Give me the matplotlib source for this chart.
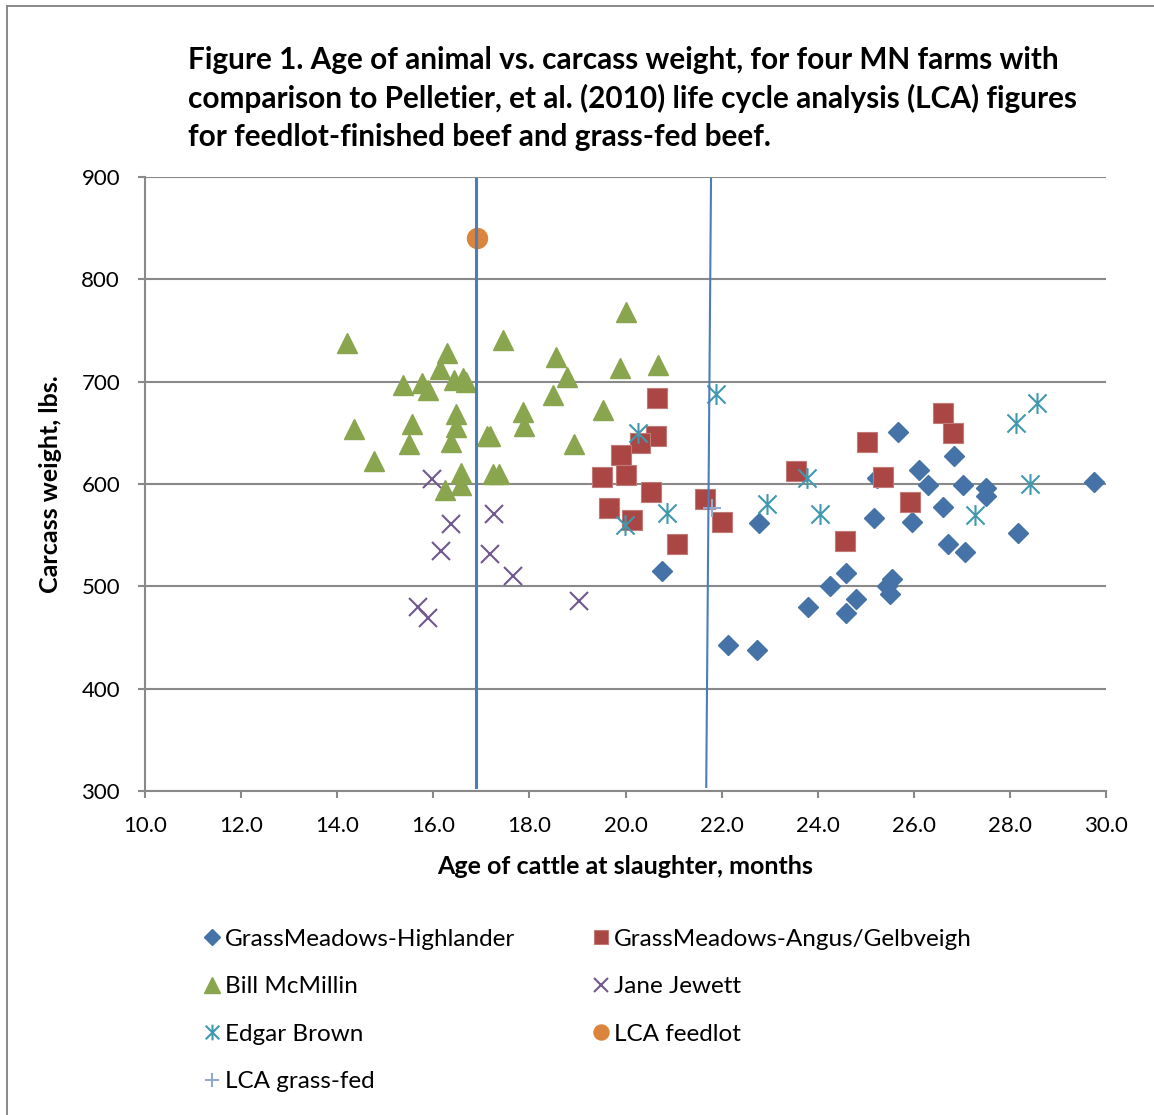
import numpy as np
import matplotlib.pyplot as plt
from matplotlib.lines import Line2D
from matplotlib.path import Path

plt.rcParams['font.family'] = ['Lato', 'DejaVu Sans']

# age at slaughter (months) and carcass weight (lbs) for each herd
highlander_age = [20.75, 22.14, 22.73, 22.78, 23.80, 24.26, 24.59, 24.79, 24.59, 25.18,
                  25.23, 25.54, 25.45, 25.50, 25.68, 25.97, 26.10, 26.30, 26.61, 26.84,
                  27.02, 26.72, 27.07, 27.50, 27.50, 28.16, 29.74]
highlander_wt = [515, 443, 438, 562, 480, 500, 513, 488, 474, 567,
                 606, 507, 500, 493, 651, 563, 614, 599, 578, 627,
                 599, 541, 534, 596, 588, 552, 602]

angus_age = [20.66, 20.63, 20.30, 19.91, 19.52, 20.00, 20.53, 19.66, 20.14, 21.08,
             21.65, 22.01, 23.54, 24.57, 26.60, 26.82, 25.02, 25.35, 25.93]
angus_wt = [684, 647, 640, 628, 607, 609, 592, 577, 565, 541,
            585, 563, 613, 544, 669, 650, 641, 607, 582]

mcmillin_age = [14.21, 16.28, 16.14, 17.46, 20.01, 18.56, 18.79, 19.89, 20.67, 15.36,
                15.76, 15.88, 16.43, 16.61, 16.69, 18.49, 19.54, 14.34, 15.56, 16.47,
                16.47, 17.87, 17.89, 17.11, 17.19, 15.49, 16.37, 18.93, 14.77, 16.57,
                16.57, 16.24, 17.25, 17.37]
mcmillin_wt = [738, 728, 712, 741, 768, 724, 705, 713, 716, 697,
               699, 692, 702, 704, 700, 687, 672, 654, 659, 668,
               656, 670, 657, 647, 647, 639, 641, 639, 622, 611,
               599, 594, 610, 610]

jewett_age = [15.98, 16.37, 16.17, 17.26, 17.19, 17.65, 15.69, 15.88, 19.03]
jewett_wt = [605, 561, 535, 571, 532, 510, 480, 469, 486]

brown_age = [21.88, 20.27, 19.98, 20.86, 22.95, 23.77, 24.04, 27.27, 28.13, 28.56, 28.42]
brown_wt = [688, 650, 560, 572, 580, 606, 571, 570, 660, 679, 600]

lca_feedlot_age = [16.9]
lca_feedlot_wt = [840]
lca_grassfed_age = [21.8]
lca_grassfed_wt = [577]

# reference lines at the LCA slaughter ages
feedlot_line_x = [16.89, 16.89]
grassfed_line_x = [21.78, 21.68]
ref_line_y = [898, 304]

x_ticks = np.arange(10, 30.1, 2)
y_ticks = np.arange(300, 901, 100)

grid_col = '#898989'

# x with a vertical bar through it
asterisk = Path([(-1, -1), (1, 1), (-1, 1), (1, -1), (0, -1.15), (0, 1.15)],
                [Path.MOVETO, Path.LINETO, Path.MOVETO, Path.LINETO, Path.MOVETO, Path.LINETO])

fig = plt.figure(figsize=(11.54, 11.15), dpi=100)
ax = fig.add_axes([0.12565, 0.29058, 0.83276, 0.55067])

ax.plot(highlander_age, highlander_wt, 'D', ms=10.5, color='#4572A7', mec='#4572A7',
        label='GrassMeadows-Highlander', zorder=3)
ax.plot(angus_age, angus_wt, 's', ms=14.2, color='#AA4643', mec='#C07a78', mew=0.8,
        label='GrassMeadows-Angus/Gelbveigh', zorder=3)
ax.plot(mcmillin_age, mcmillin_wt, '^', ms=15, color='#89A54E', mec='#89A54E',
        label='Bill McMillin', zorder=3)
ax.plot(jewett_age, jewett_wt, 'x', ms=13, color='#71588F', mew=1.5,
        label='Jane Jewett', zorder=3)
ax.plot(brown_age, brown_wt, ls='none', marker=asterisk, ms=15, mfc='none',
        mec='#4198AF', mew=1.5, label='Edgar Brown', zorder=3)
ax.plot(lca_feedlot_age, lca_feedlot_wt, 'o', ms=14.4, color='#DB843D',
        label='LCA feedlot', zorder=3)
ax.plot(lca_grassfed_age, lca_grassfed_wt, '+', ms=13, color='#93A9CF', mew=1.5,
        label='LCA grass-fed', zorder=3)

ax.plot(feedlot_line_x, ref_line_y, color='#4A7EBB', lw=2.2, zorder=5)
ax.plot(grassfed_line_x, ref_line_y, color='#4A7EBB', lw=1.5, zorder=5)

ax.set_xlim(10, 30)
ax.set_ylim(300, 900)
ax.set_xticks(x_ticks)
ax.set_xticklabels([f'{v:.1f}' for v in x_ticks])
ax.set_yticks(y_ticks)
ax.yaxis.grid(True, color=grid_col, lw=1.5)
ax.set_axisbelow(True)
for side in ['top', 'right']:
    ax.spines[side].set_visible(False)
for side in ['left', 'bottom']:
    ax.spines[side].set_color(grid_col)
    ax.spines[side].set_linewidth(1.5)
ax.tick_params(axis='both', colors=grid_col, labelcolor='black', labelsize=16,
               length=5, width=1.5)
ax.tick_params(axis='y', pad=13)
ax.tick_params(axis='x', pad=13)

ax.set_xlabel('Age of cattle at slaughter, months', fontsize=18, fontweight='bold', labelpad=14)
ax.set_ylabel('Carcass weight, lbs.', fontsize=18, fontweight='bold', labelpad=14)

title_lines = ['Figure 1. Age of animal vs. carcass weight, for four MN farms with',
               'comparison to Pelletier, et al. (2010) life cycle analysis (LCA) figures',
               'for feedlot-finished beef and grass-fed beef.']
for i, line in enumerate(title_lines):
    fig.text(188 / 1154, 1 - (60 + 38.5 * i) / 1115, line, fontsize=21.45,
             fontweight='bold', va='center', ha='left')

# legend laid out row by row over two columns
h, l = ax.get_legend_handles_labels()
order = [0, 2, 4, 6, 1, 3, 5]
fig.legend([h[i] for i in order], [l[i] for i in order], ncol=2,
           loc='upper left', bbox_to_anchor=(183 / 1154, 1 - 907 / 1115),
           frameon=False, fontsize=17.5, numpoints=1, handlelength=0.6,
           handletextpad=0.23, columnspacing=3.22, labelspacing=1.09, markerscale=0.75)

# outer chart frame
fig.add_artist(Line2D([7 / 1154, 7 / 1154], [0, 1 - 6 / 1115], color=grid_col, lw=1.4))
fig.add_artist(Line2D([7 / 1154, 1], [1 - 6 / 1115, 1 - 6 / 1115], color=grid_col, lw=1.4))

fig.savefig('out.png', dpi=100)
